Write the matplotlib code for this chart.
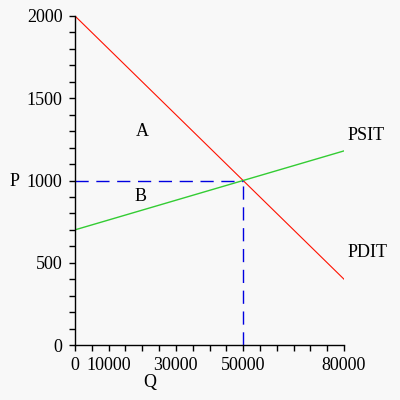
import numpy as np
import matplotlib.pyplot as plt

plt.rcParams['font.family'] = ['Liberation Serif', 'DejaVu Serif']

# demand (PDIT) and supply (PSIT) end points
q_line = [0, 80000]
p_demand = [2000, 400]
p_supply = [700, 1180]
q_eq = 50000
p_eq = 1000

x_ticks = np.arange(0, 80001, 5000)
x_labels = {0: '0', 10000: '10000', 30000: '30000', 50000: '50000', 80000: '80000'}
y_ticks = np.arange(0, 2001, 100)
y_labels = {0: '0', 500: '500', 1000: '1000', 1500: '1500', 2000: '2000'}

bg = '#f8f8f8'
fig = plt.figure(figsize=(4, 4), dpi=100, facecolor=bg)
ax = fig.add_axes([0.1875, 0.1375, 0.6725, 0.8225], facecolor=bg)

ax.plot(q_line, p_demand, color='#ff1100', lw=0.8)
ax.plot(q_line, p_supply, color='#33cc33', lw=1.0)
ax.plot([0, q_eq], [p_eq, p_eq], color='#0000e0', lw=1.0, ls=(0, (9.5, 5.5)))
ax.plot([q_eq, q_eq], [0, p_eq], color='#0000e0', lw=1.0, ls=(0, (9.5, 5.5)))

ax.set_xlim(0, 80000)
ax.set_ylim(0, 2000)
for s in ['top', 'right']:
    ax.spines[s].set_visible(False)
ax.spines['left'].set_linewidth(1.0)
ax.spines['bottom'].set_linewidth(1.0)

ax.set_xticks(x_ticks)
ax.set_xticklabels([x_labels.get(int(t), '') for t in x_ticks])
ax.set_yticks(y_ticks)
ax.set_yticklabels([y_labels.get(int(t), '') for t in y_ticks])
ax.tick_params(length=4, width=1.0, labelsize=13)
ax.tick_params(axis='x', pad=5)
ax.tick_params(axis='y', pad=5)

ax.text(20000, 1300, 'A', fontsize=13, ha='center', va='center')
ax.text(19600, 900, 'B', fontsize=13, ha='center', va='center')
ax.text(81000, 1275, 'PSIT', fontsize=13, ha='left', va='center', clip_on=False)
ax.text(81000, 565, 'PDIT', fontsize=13, ha='left', va='center', clip_on=False)
fig.text(10 / 400, 1 - 181 / 400, 'P', fontsize=13, ha='left', va='center')
fig.text(150 / 400, 1 - 383 / 400, 'Q', fontsize=13, ha='center', va='center')

fig.savefig('out.png', dpi=100, facecolor=bg)
